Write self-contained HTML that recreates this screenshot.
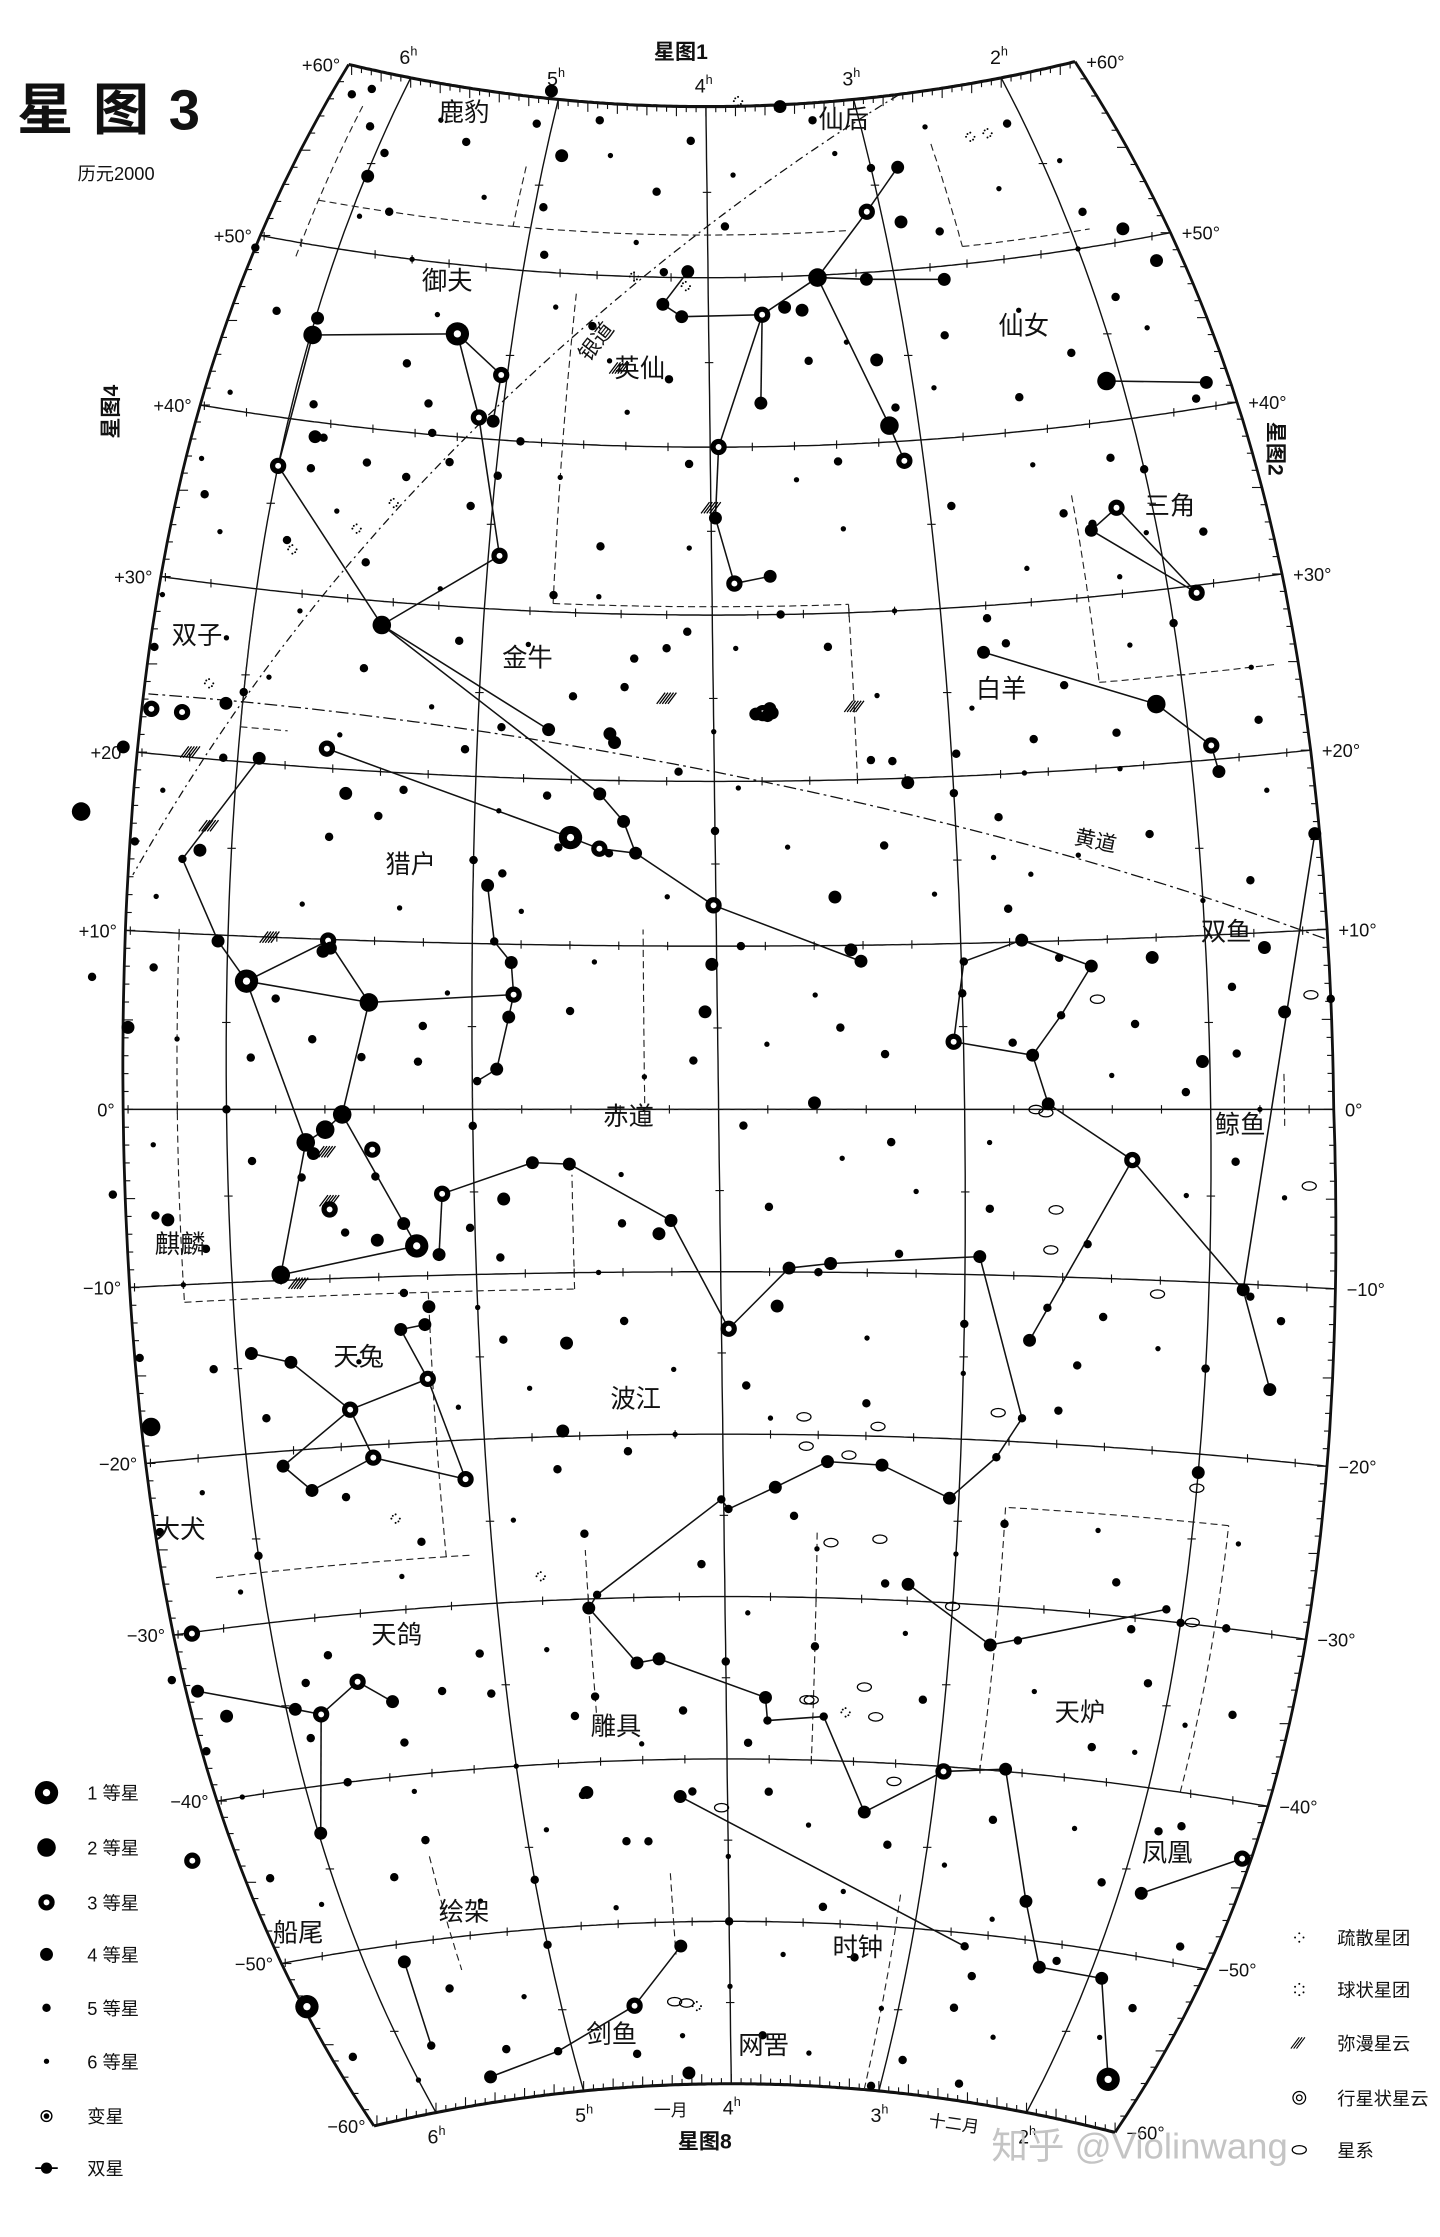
<!DOCTYPE html>
<html lang="zh">
<head>
<meta charset="utf-8">
<title>星图3</title>
<style>
html,body{margin:0;padding:0;background:#fff;}
svg{display:block;}
text{font-family:"Liberation Sans","Noto Sans CJK SC",sans-serif;fill:#111;}
</style>
</head>
<body>
<svg id="chart" xmlns="http://www.w3.org/2000/svg" width="1440" height="2237" viewBox="0 0 1024 1591">
<rect x="0" y="0" width="1024" height="1591" fill="#fff"/>
<g id="grid"></g>
<g id="bounds"></g>
<g id="paths"></g>
<g id="clines"></g>
<g id="starsG"></g>
<g id="dso"></g>
<g id="labels">
  <text x="12" y="92" font-size="40" font-weight="bold" letter-spacing="14" font-family="Noto Serif CJK SC, serif">星图3</text>
  <text x="55" y="128" font-size="13">历元2000</text>
  <text x="465" y="42" font-size="15" font-weight="bold">星图1</text>
  <text x="482" y="1528" font-size="15" font-weight="bold">星图8</text>
  <text transform="translate(84,312) rotate(-90)" font-size="15" font-weight="bold">星图4</text>
  <text transform="translate(902,300) rotate(90)" font-size="15" font-weight="bold">星图2</text>
  <text x="465" y="1505" font-size="12">一月</text>
  <text x="660" y="1512" font-size="12" transform="rotate(8,660,1512)">十二月</text>
  <text x="705" y="1535" font-size="26" style="fill:#c4c4c4">知乎 @Violinwang</text>
</g>
<g id="legend"></g>
</svg>
<script>
// ---------- data arrays ----------
const starIds = [];
const starRA = [];
const starDec = [];
const starMag = [];
const stars = [
['capella',5.28,46.0,0.1],['menk',5.99,44.95,1.9],['thAur',6.0,37.2,2.6],['iAur',4.95,33.17,2.7],['eAur',5.03,43.82,3.0],['hAur',5.11,41.23,3.2],['zAur',5.04,41.08,3.7],['dAur',5.99,54.28,3.7],['xiAur',5.95,55.7,4.9],['nuAur',5.86,39.15,4.0],['piAur',5.99,45.94,4.3],['rhoAur',5.36,41.8,5.2],['lamAur',5.32,40.1,4.7],['muAur',5.22,38.48,4.9],['sigAur',5.41,37.39,5.0],['omAur',4.99,37.89,4.9],['upsAur',5.85,37.3,4.7],['chiAur',5.54,32.19,4.8],['tauAur',5.82,39.15,4.5],['psi1Aur',6.42,49.29,4.9],
['bCam',5.06,60.44,4.0],['7Cam',4.95,53.75,4.5],['cam2',5.5,57.0,5.0],['cam3',4.3,55.0,5.3],['cam4',3.84,56.0,5.5],['cam5',4.9,56.8,4.3],['cam6',4.7,59.0,5.0],['cam7',6.2,59.0,4.5],['cam8',6.3,58.5,5.2],
['mirfak',3.41,49.86,1.8],['algol',3.14,40.96,2.1],['zPer',3.9,31.88,2.85],['ePer',3.96,40.01,2.9],['gPer',3.08,53.51,2.9],['dPer',3.72,47.79,3.0],['rPer',3.09,38.84,3.4],['hPer',2.84,55.9,3.8],['nuPer',3.75,42.58,3.8],['kPer',3.16,44.86,3.8],['oPer',3.74,32.29,3.8],['xiPer',3.98,35.79,4.0],['lPer',4.11,50.35,4.3],['muPer',4.24,48.41,4.1],['tPer',2.9,52.76,4.0],['iPer',3.15,49.6,4.05],['psiPer',3.6,48.19,4.3],['sPer',3.51,47.99,4.4],['phiPer',1.73,50.69,4.1],['thPer',2.74,49.23,4.1],['48Per',4.14,47.7,4.0],['bPer',4.24,50.3,4.6],['aB',3.5,59.9,4.2],['aC',3.3,59.0,4.6],
['gAnd',2.07,42.33,2.1],['51And',1.63,48.63,3.6],['58And',2.14,37.9,4.8],['60And',2.2,44.2,4.8],['tauAnd',1.68,40.58,4.9],['upsAnd',1.61,41.4,4.1],
['bTri',2.16,34.99,3.0],['aTri',1.88,29.58,3.4],['gTri',2.29,33.85,4.0],['dTri',2.28,34.22,4.9],['eTri',2.05,33.36,5.5],
['hamal',2.12,23.46,2.0],['sheratan',1.91,20.81,2.6],['mesarthim',1.89,19.29,3.9],['41Ari',2.83,27.26,3.6],['39Ari',2.8,29.25,4.5],['35Ari',2.73,27.7,4.6],['dAri',3.19,19.73,4.35],['eAri',2.98,21.34,4.6],['zAri',3.25,21.05,4.9],['tAri',3.34,21.15,5.3],['nuAri',2.65,21.96,5.4],['thAri',2.3,19.9,5.6],['piAri',2.82,17.46,5.2],['sigAri',2.85,15.08,5.5],['muAri',2.7,20.0,5.7],
['ald',4.6,16.51,0.9],['elnath',5.44,28.61,1.65],['zTau',5.63,21.14,3.0],['alcyone',3.79,24.1,2.9],['atlas',3.82,24.05,3.6],['electra',3.75,24.11,3.7],['maia',3.76,24.37,3.9],['merope',3.77,23.95,4.1],['lTau',4.01,12.49,3.4],['eTau',4.48,19.18,3.5],['th2Tau',4.48,15.87,3.4],['gTau',4.33,15.63,3.6],['dTau',4.38,17.54,3.8],['oTau',3.41,9.03,3.6],['xiTau',3.45,9.73,3.7],['nuTau',4.05,5.99,3.9],['tauTau',4.7,22.96,4.3],['iTau',5.05,21.59,4.6],['kTau',4.42,22.29,4.2],['upsTau',4.44,22.81,4.3],['10Tau',3.61,0.4,4.3],['5Tau',3.51,12.94,4.1],['muTau',4.02,8.89,4.3],['chiTau',4.38,25.63,5.4],['phiTau',4.34,27.35,5.0],['psiTau',4.11,29.0,5.2],['omTau',4.15,20.58,4.9],['sigTau',4.65,15.9,4.7],['71Tau',4.44,15.6,4.5],['111Tau',5.4,17.38,5.0],['119Tau',5.54,18.6,4.3],['m1',5.58,22.0,5.8],['14Tau',3.9,19.6,5.5],
['betel',5.92,7.41,0.5],['rigel',5.24,-8.2,0.1],['bellatrix',5.42,6.35,1.6],['mintaka',5.53,-0.3,2.2],['alnilam',5.6,-1.2,1.7],['alnitak',5.68,-1.94,1.8],['saiph',5.8,-9.67,2.1],['meissa',5.59,9.93,3.4],['pi3',4.83,6.96,3.2],['pi2',4.84,8.9,4.4],['pi4',4.85,5.6,3.7],['pi5',4.9,2.44,3.7],['pi1',4.91,10.15,4.6],['pi6',4.98,1.71,4.5],['o2Ori',4.94,13.51,4.1],['o1Ori',4.88,14.25,4.7],['iOri',5.59,-5.91,2.8],['etaOri',5.41,-2.4,3.4],['muOri',6.04,9.65,4.1],['xiOri',6.2,14.21,4.5],['nuOri',6.13,14.77,4.4],['chi1',5.91,20.28,4.4],['chi2',6.06,20.14,4.6],['phi1',5.58,9.49,4.4],['phi2',5.61,9.29,4.1],['omOri',5.65,4.12,4.6],['psiOri',5.45,3.1,4.6],['sigOri',5.65,-2.6,3.8],['tauOri',5.29,-6.84,3.6],['29Ori',5.4,-7.8,4.1],['rhoOri',5.22,2.86,4.5],['52Ori',5.8,6.45,5.3],['upsOri',5.53,-7.3,4.6],['kOri2',5.7,-4.0,5.0],
['cursa',5.13,-5.09,2.8],['zaurak',3.97,-13.51,2.95],['dEri',3.72,-9.76,3.5],['eEri',3.55,-9.46,3.7],['hEri',2.94,-8.9,3.9],['t1',2.75,-18.57,4.5],['t2',2.85,-21.0,4.75],['t3',3.04,-23.62,4.1],['t4',3.33,-21.76,3.7],['t5',3.56,-21.63,4.3],['t6',3.78,-23.25,4.2],['t8',3.98,-24.61,4.6],['t9',4.01,-24.02,4.6],['u1',4.56,-29.77,4.5],['u2',4.6,-30.56,3.8],['u3',4.4,-34.02,3.95],['u4',4.3,-33.8,3.55],['gEri',3.82,-36.2,4.2],['fEri',3.81,-37.62,4.7],['yEri',3.55,-37.3,4.5],['eEri2',3.33,-43.07,4.3],['acamar',2.97,-40.3,3.2],['iEri',2.68,-39.86,4.1],['kEri',2.45,-47.7,4.25],['phiEri',2.28,-51.51,3.55],['chiEri',1.93,-51.61,3.7],['achernar',1.63,-57.24,0.5],['nuEri',4.61,-3.35,3.9],['muEri',4.76,-3.25,4.0],['omEri',4.88,-5.45,4.4],['lamEri',5.15,-8.75,4.3],['psiEri',5.02,-7.17,4.8],['o1Eri',4.2,-6.84,4.0],['o2Eri',4.25,-7.65,4.4],['piEri',3.77,-12.1,4.4],['zetEri',3.27,-8.82,4.8],['53Eri',4.64,-14.3,3.9],['54Eri',4.67,-19.67,4.3],['hEri2',3.6,-33.0,5.2],
['menkar',3.04,4.09,2.5],['gCet',2.72,3.24,3.5],['dCet',2.66,0.33,4.1],['mira',2.32,-2.98,3.0],['zCet',1.86,-10.33,3.7],['tauCet',1.73,-15.94,3.5],['nuCet',2.6,5.59,4.9],['xi2',2.47,8.46,4.3],['muCet',2.75,10.11,4.3],['lCet',2.99,8.91,4.7],['piCet',2.73,-13.86,4.25],['rhoCet',2.43,-12.29,4.9],['sigCet',2.53,-15.24,4.75],['epsCet',2.66,-11.87,4.8],['xi1',2.22,8.85,4.4],['alpPsc',2.03,2.76,3.8],['omPsc',1.76,9.16,4.3],['xiPsc',1.89,3.19,4.6],['nuPsc',1.69,5.49,4.4],['muPsc',1.5,6.14,4.8],['etaPsc',1.52,15.35,3.6],['chiCet',1.83,-10.7,4.7],['upsCet',2.0,-21.08,4.0],['kCet',3.32,3.37,4.8],
['aFor',3.2,-28.99,3.9],['bFor',2.82,-32.4,4.45],['nuFor',2.07,-29.3,4.7],['muFor',2.21,-30.7,5.3],['phiFor',2.1,-33.8,5.1],['piFor',2.0,-30.0,5.4],
['arneb',5.55,-17.82,2.6],['nihal',5.47,-20.76,2.8],['eLep',5.09,-22.37,3.2],['muLep',5.22,-16.21,3.3],['zLep',5.78,-14.82,3.5],['gLep',5.74,-22.45,3.6],['hLep',5.94,-14.17,3.7],['dLep',5.85,-20.88,3.8],['lLep',5.32,-13.18,4.3],['kLep',5.22,-12.94,4.4],['iLep',5.2,-11.87,4.4],['thLep',6.1,-14.94,4.7],
['phact',5.66,-34.07,2.6],['wazn',5.85,-35.77,3.1],['dCol',6.37,-33.44,3.85],['eCol',5.52,-35.47,3.9],['hCol',5.99,-42.82,3.95],['gCol',5.96,-35.28,4.35],['kCol',6.27,-35.14,4.4],['lCol',5.89,-33.8,4.9],['omCol',5.29,-35.1,4.9],['muCol',5.77,-32.3,5.2],['xiCol',5.92,-37.1,4.97],
['mirzam',6.38,-17.96,2.0],['zCMa',6.34,-30.06,3.0],['lCMa',6.47,-32.58,4.5],['canopus',6.4,-52.7,-0.7],['nuPup',6.63,-43.2,3.2],
['aCae',4.68,-41.86,4.45],['bCae',4.7,-37.14,5.05],['gCae',5.07,-35.48,4.55],['dCae',4.51,-44.95,5.1],
['bPic',5.79,-51.07,3.85],['gPic',5.83,-56.17,4.5],['aDor',4.57,-55.05,3.3],['gDor',4.27,-51.49,4.25],['zDor',5.09,-57.47,4.7],['bDor',5.56,-58.5,3.8],
['aHor',4.23,-42.29,3.85],['dHor',4.17,-41.99,4.9],['zHor',2.68,-54.55,5.2],['muHor',3.06,-59.74,5.1],['iHor',2.71,-50.8,5.4],['etaHor',2.63,-52.54,5.3],['eRet',4.28,-59.3,4.4],
['psiPhe',1.89,-46.3,4.4],['gPhe',1.47,-43.3,3.4],['phiPhe',1.9,-42.5,5.1],['chiPhe',1.6,-49.0,5.2],
['muGem',6.38,22.51,2.9],['etaGem',6.25,22.51,3.3],['1Gem',6.07,23.26,4.2],['nuGem',6.48,20.21,4.1],['alhena',6.63,16.4,1.9],
['gMon',6.25,-6.27,4.0],['8Mon',6.4,4.59,4.4],['13Mon',6.55,7.33,4.5],['10Mon',6.47,-4.76,5.0]
];
// faint stars: [ra, dec]
const faint = [
[5.7,58],[5.3,54],[4.6,57],[4.4,52],[3.2,57],[2.6,58],[2.3,54],[1.9,55],[5.6,50],[4.8,48],[4.5,45],[4.4,42],[3.6,38],[3.4,35],[2.5,38],[2.4,47],[2.0,50],[1.8,45],[5.7,35],[6.2,33],[6.3,41],[5.2,31],[4.8,28],[4.5,31],[3.9,28],[3.2,30],[2.6,32],[2.2,27],[1.7,25],[6.1,27],[5.9,25],[5.2,24],[4.9,18],[4.2,13],[3.7,16],[3.1,13],[2.5,15],[2.0,12],[1.7,18],[6.3,12],[6.2,4],[5.3,12],[4.5,9],[4.3,2],[3.8,4],[3.5,-3],[2.9,-2],[2.1,-5],[1.8,0],[6.3,-2],[6.2,-10],[5.0,-12],[4.5,-10],[4.2,-16],[3.4,-14],[3.0,-16],[2.2,-14],[1.7,-5],[6.2,-22],[5.1,-18],[4.9,-25],[4.2,-20],[3.6,-27],[3.0,-27],[2.4,-25],[1.8,-25],[6.1,-28],[5.4,-28],[4.8,-33],[3.9,-31],[2.6,-35],[1.9,-36],[6.3,-40],[5.5,-41],[4.9,-44],[4.0,-46],[3.4,-48],[2.9,-46],[2.3,-43],[6.1,-47],[5.3,-48],[4.6,-49],[3.7,-52],[3.1,-55],[2.4,-56],[6.0,-58],[5.2,-54],[4.3,-57],[3.5,-58],[1.8,-55],
[5.95,52],[5.4,47],[4.7,38],[3.3,46],[2.9,43],[2.2,31],[4.1,34],[5.8,29],[6.35,37],[6.4,29],[4.0,23],[3.3,25],[2.9,24],[4.8,12],[5.1,7],[5.7,12],[6.3,18],[2.7,14],[3.6,7],[4.4,-4],[3.2,-5],[2.4,2],[5.5,-15],[4.8,-17],[3.8,-19],[3.2,-32],[2.1,-38],[4.4,-39],[5.0,-40],[3.6,-44],[2.6,-49],[4.0,-54]
];
// medium-faint field stars: [ra, dec]
const field = [
[6.1,57],[5.1,58.5],[4.1,58],[3.0,56],[2.1,57.5],[5.8,52.5],[4.9,51],[3.9,53],[2.7,52],[1.9,52],
[6.2,46],[5.5,44],[4.6,47],[4.2,44],[3.5,45],[2.8,46],[2.5,42],[1.9,47],[5.9,41],[4.9,40],[3.1,42],
[6.3,35],[5.9,33],[5.1,36],[4.5,34],[4.1,39],[3.4,39],[2.9,36],[2.4,35],[1.8,33],[5.6,38],[4.7,31],[3.7,30],[2.0,37],
[6.4,26],[5.5,26],[5.1,28],[4.6,25],[4.2,28],[3.5,28],[2.5,25],[2.0,28],[1.7,22],[6.0,24],[4.9,23],[3.0,19],[2.3,22],
[6.4,15],[5.6,16],[5.0,15],[4.7,19],[4.0,17],[3.3,16],[2.8,12],[2.2,16],[1.8,13],[5.3,19],[3.9,10],[2.6,9],
[6.3,8],[5.9,3],[5.2,5],[4.6,6],[4.1,3],[3.5,5],[3.0,7],[2.3,5],[1.9,7],[6.0,0],[5.0,-1],[3.9,-1],[2.8,4],[2.1,1],
[6.3,-6],[5.4,-4],[4.9,-9],[4.4,-7],[3.8,-6],[3.3,-2],[2.9,-6],[2.5,-8],[1.9,-3],[6.1,-8],[5.9,-3],[3.6,-10],
[6.4,-14],[5.9,-18],[5.3,-11],[4.9,-14],[4.4,-13],[3.9,-17],[3.4,-18],[3.0,-13],[2.6,-18],[2.0,-15],[1.7,-12],[4.7,-22],
[6.4,-24],[6.0,-26],[5.3,-26],[4.6,-26],[4.1,-28],[3.7,-25],[3.3,-29],[2.8,-25],[2.3,-28],[1.8,-30],[5.6,-23],[4.4,-21],
[6.4,-37],[5.5,-38],[5.1,-33],[4.6,-36],[4.0,-34],[3.9,-39],[3.1,-36],[2.7,-32],[2.3,-38],[1.7,-35],[5.8,-40],[4.2,-37],
[6.3,-45],[5.7,-46],[5.0,-47],[4.4,-45],[3.8,-42],[3.2,-45],[2.7,-43],[2.1,-46],[1.8,-42],[5.5,-44],[4.7,-42],[3.5,-49],
[6.3,-56],[5.6,-53],[5.0,-51],[4.6,-58],[4.0,-50],[3.3,-52],[2.9,-58],[2.2,-51],[1.7,-53],[5.4,-57],[3.8,-57],[2.5,-59]
];
// constellation boundary segments: [ra1, dec1, ra2, dec2]
const boundaries = [
[6.2,58,6.2,49],[6.2,52.5,5.1,52.5],[5.1,56,5.1,52.5],[5.1,52.5,3.2,52.5],[4.7,30.5,4.7,49],[4.7,30.5,3.4,30.5],[3.4,30.5,3.4,20],[2.6,57,2.6,51],[2.6,51,1.9,51],[2.35,36,2.35,25],[2.35,25,1.6,25],
[3.45,0,5.0,0],[5.0,0,5.0,15.5],[6.2,10,6.2,-11],[6.2,-11,4.6,-11],[4.6,-11,4.6,-4],[3.6,-26,3.6,-40],[3.6,-40,2.5,-40],[4.6,-37,4.6,-27],[5.1,-27,6.2,-27],[3.1,-48,3.1,-60],[4.3,-47,4.3,-52],[5.5,-45,5.5,-52],[1.85,-40,1.85,-24],[1.85,-24,2.8,-24],[2.8,-24,2.8,-40],
[6.0,30,6.0,22],[6.0,22,5.8,22],[5.2,-11,5.2,-27],[2.0,10,3.4,10],[1.7,2,1.7,-1],[4.3,-1,4.3,11]
];
const conLines = [
['menk','capella'],['capella','hAur'],['capella','eAur'],['hAur','iAur'],['menk','thAur'],['thAur','elnath'],['iAur','elnath'],['eAur','zAur'],
['betel','bellatrix'],['bellatrix','mintaka'],['mintaka','alnilam'],['alnilam','alnitak'],['alnitak','saiph'],['mintaka','rigel'],['betel','alnitak'],['meissa','betel'],['meissa','bellatrix'],['bellatrix','pi3'],['o2Ori','pi1'],['pi1','pi2'],['pi2','pi3'],['pi3','pi4'],['pi4','pi5'],['pi5','pi6'],['saiph','rigel'],['betel','muOri'],['muOri','xiOri'],['xiOri','chi1'],
['ald','zTau'],['elnath','tauTau'],['lTau','gTau'],['gTau','dTau'],['dTau','eTau'],['eTau','elnath'],['gTau','th2Tau'],['th2Tau','ald'],['lTau','oTau'],
['mirfak','gPer'],['gPer','hPer'],['mirfak','dPer'],['dPer','ePer'],['ePer','xiPer'],['xiPer','zPer'],['zPer','oPer'],['mirfak','algol'],['algol','rPer'],['mirfak','iPer'],['iPer','thPer'],['dPer','nuPer'],['dPer','48Per'],['48Per','muPer'],['muPer','lPer'],
['gAnd','upsAnd'],['aTri','bTri'],['bTri','gTri'],['gTri','aTri'],
['hamal','sheratan'],['sheratan','mesarthim'],['hamal','41Ari'],
['menkar','lCet'],['lCet','muCet'],['muCet','xi2'],['xi2','nuCet'],['nuCet','gCet'],['gCet','menkar'],['gCet','dCet'],['dCet','mira'],['mira','zCet'],['zCet','tauCet'],['mira','piCet'],['zCet','etaPsc'],
['cursa','lamEri'],['cursa','muEri'],['muEri','nuEri'],['nuEri','o1Eri'],['o1Eri','zaurak'],['zaurak','dEri'],['dEri','eEri'],['eEri','hEri'],['hEri','t1'],['t1','t2'],['t2','t3'],['t3','t4'],['t4','t5'],['t5','t6'],['t6','t8'],['t8','t9'],['t9','u1'],['u1','u2'],['u2','u3'],['u3','u4'],['u4','gEri'],['gEri','fEri'],['fEri','yEri'],['yEri','eEri2'],['eEri2','acamar'],['acamar','iEri'],['iEri','kEri'],['kEri','phiEri'],['phiEri','chiEri'],['chiEri','achernar'],
['aFor','bFor'],['bFor','nuFor'],
['arneb','nihal'],['nihal','eLep'],['eLep','muLep'],['muLep','arneb'],['arneb','zLep'],['zLep','hLep'],['arneb','dLep'],['dLep','gLep'],['gLep','nihal'],['muLep','lLep'],['lLep','kLep'],
['eCol','phact'],['phact','wazn'],['wazn','gCol'],['gCol','dCol'],['wazn','hCol'],
['gDor','aDor'],['aDor','zDor'],['zDor','bDor'],['aHor','iHor'],['gPhe','psiPhe'],['bPic','gPic']
];
const decLines = [60,50,40,30,20,10,0,-10,-20,-30,-40,-50,-60];
const raLines = [6,5,4,3,2];
const raTopLabels = ['6','5','4','3','2'];
const clusters = [[5.45,35.8],[5.6,34.1],[5.87,32.5],[3.78,60.3],[2.35,57.1],[2.24,57.15],[4.12,49.5],[4.4,50.0],[6.15,24.3],[4.8,-28.5],[5.4,-24.5],[3.45,-37.0],[4.2,-55.2]];
const galaxies = [[2.71,-0.01],[2.67,-0.2],[2.65,-8.4],[2.63,-6.0],[3.31,-37.2],[3.37,-35.4],[3.35,-19.4],[3.33,-26.3],[3.54,-26.6],[3.65,-20.7],[3.66,-18.9],[3.47,-21.2],[3.2,-41.1],[4.03,-43.0],[4.33,-54.9],[4.26,-55.0],[3.61,-36.3],[3.63,-36.3],[2.85,-18.3],[1.95,-29.9],[1.6,-4.3],[1.58,6.4],[2.45,6.5],[2.0,-22.0],[2.21,-10.8],[3.0,-30.2]];
const nebulae = [[5.59,-5.4],[5.83,10.0],[5.6,-2.5],[6.2,20.3],[3.4,24.4],[4.0,36.4],[4.2,25.0],[4.45,44.6],[6.1,16.2],[5.73,-10.2]];
const legendMags = [0.5,2,3,4,5,6];
const legendNames = ['1 等星','2 等星','3 等星','4 等星','5 等星','6 等星'];

// ---------- projection ----------
function S(d){const x=d/60;return 175*(1-0.261*x*x-0.139*x*x*x*x);}
function X0(d){return 511-0.15*d;}
function ymid(d){return d>=0?789-11.55*d-0.0056*d*d:789-11.55*d;}
function C(d){return 32*Math.sin(Math.min(90,Math.abs(d)*2.2)*Math.PI/180);}
function X(ra,d){return X0(d)+(4-ra)*S(d);}
function Y(ra,d){const h=(4-ra)/2.5;return ymid(d)-Math.sign(d)*C(d)*h*h;}
const LEFT=6.42;
function RIGHT(d){return d<0?1.5+0.1*(d/60):1.5;}

const NS='http://www.w3.org/2000/svg';
function mk(tag,attrs,parent){const e=document.createElementNS(NS,tag);for(const k in attrs)e.setAttribute(k,attrs[k]);parent.appendChild(e);return e;}
function poly(pts){return pts.map((p,i)=>(i?'L':'M')+p[0].toFixed(1)+','+p[1].toFixed(1)).join('');}
function sup(parent,main){const s=document.createElementNS(NS,'tspan');s.setAttribute('font-size','9');s.setAttribute('dy','-6');s.textContent='h';parent.textContent=main;parent.appendChild(s);}

const grid=document.getElementById('grid');
decLines.forEach(d=>{
  const pts=[];const r1=RIGHT(d);
  for(let ra=LEFT;ra>=r1-0.0001;ra-=0.02)pts.push([X(ra,d),Y(ra,d)]);
  pts.push([X(r1,d),Y(r1,d)]);
  const edge=(d===60||d===-60);
  const p=mk('path',{d:poly(pts),fill:'none',stroke:'#111','stroke-width':edge?2.2:1},grid);
  
  
  for(let m=Math.ceil(r1*15);m<=LEFT*15;m++){
    const ra=m/15;const x=X(ra,d),y=Y(ra,d);
    let len=0;
    if(edge)len=(m%3===0?7:4);else if(m%3===0&&m%15!==0)len=3;
    if(!len)continue;
    const dir=d>0?1:-1;
    if(edge)mk('line',{x1:x,y1:y,x2:x,y2:y+dir*len,stroke:'#111','stroke-width':0.8},grid);
    else mk('line',{x1:x,y1:y-len,x2:x,y2:y+len,stroke:'#111','stroke-width':0.8},grid);
  }
  const lx=X(LEFT,d),ly=Y(LEFT,d);const rx=X(r1,d),ry=Y(r1,d);
  const lab=(d>0?'+':(d<0?'\u2212':''))+Math.abs(d)+'°';
  const t1=mk('text',{x:lx-6,y:ly+5,'font-size':13,'text-anchor':'end'},grid);t1.textContent=lab;
  
  
  const t2=mk('text',{x:rx+8,y:ry+5,'font-size':13},grid);t2.textContent=lab;
  
  
});
raLines.forEach((ra,i)=>{
  const pts=[];for(let d=-60;d<=60;d+=1)pts.push([X(ra,d),Y(ra,d)]);
  const p=mk('path',{d:poly(pts),fill:'none',stroke:'#111','stroke-width':1},grid);
  
  
  for(let d=-55;d<=55;d+=5){if(d%10===0)continue;const x=X(ra,d),y=Y(ra,d);mk('line',{x1:x-3,y1:y,x2:x+3,y2:y,stroke:'#111','stroke-width':0.8},grid);}
  const tt=mk('text',{x:X(ra,60)-8,y:Y(ra,60)-10,'font-size':14},grid);
  sup(tt,raTopLabels[i]);
  
  
  const tb=mk('text',{x:X(ra,-60)-6,y:Y(ra,-60)+22,'font-size':14},grid);
  sup(tb,raTopLabels[i]);
  
  
});
['L','R'].forEach(side=>{
  const pts=[];for(let d=-60;d<=60;d+=1){const ra=side==='R'?RIGHT(d):LEFT;pts.push([X(ra,d),Y(ra,d)]);}
  const p=mk('path',{d:poly(pts),fill:'none',stroke:'#111','stroke-width':2},grid);
  
  
  for(let d=-59;d<=59;d+=1){const ra=side==='R'?RIGHT(d):LEFT;const x=X(ra,d),y=Y(ra,d);const len=(d%5===0)?7:4;
    mk('line',{x1:x,y1:y,x2:side==='R'?x-len:x+len,y2:y,stroke:'#111','stroke-width':0.8},grid);}
});

// ---------- boundaries ----------
const bg=document.getElementById('bounds');
boundaries.forEach(b=>{
  const pts=[];const n=30;
  for(let k=0;k<=n;k++){const ra=b[0]+(b[2]-b[0])*k/n,d=b[1]+(b[3]-b[1])*k/n;pts.push([X(ra,d),Y(ra,d)]);}
  const p=mk('path',{d:poly(pts),fill:'none',stroke:'#222','stroke-width':0.8,'stroke-dasharray':'5 3'},bg);
  
  
});

// ---------- ecliptic & galactic equator ----------
const paths=document.getElementById('paths');
function inside(ra,d){return d<=60&&d>=-60&&ra<=LEFT&&ra>=RIGHT(d);}
(function(){
  const eps=23.44*Math.PI/180;const pts=[];
  for(let l=10;l<=110;l+=0.5){const L=l*Math.PI/180;let ra=Math.atan2(Math.sin(L)*Math.cos(eps),Math.cos(L))*12/Math.PI;if(ra<0)ra+=24;const d=Math.asin(Math.sin(eps)*Math.sin(L))*180/Math.PI;if(inside(ra,d))pts.push([X(ra,d),Y(ra,d)]);}
  const p=mk('path',{d:poly(pts),fill:'none',stroke:'#111','stroke-width':0.9,'stroke-dasharray':'9 3 2 3'},paths);
  
  
  const g=[];const rp=192.86,dp=27.13*Math.PI/180;
  for(let r=20;r<=100;r+=0.5){const d=Math.atan(-Math.cos((r-rp)*Math.PI/180)/Math.tan(dp))*180/Math.PI;const ra=r/15;if(inside(ra,d))g.push([X(ra,d),Y(ra,d)]);}
  const q=mk('path',{d:poly(g),fill:'none',stroke:'#111','stroke-width':0.9,'stroke-dasharray':'6 3 1.5 3'},paths);
  
  
})();

// ---------- stars ----------
const sg=document.getElementById('starsG');
const byId={};
stars.forEach(s=>{starIds.push(s[0]);starRA.push(s[1]);starDec.push(s[2]);starMag.push(s[3]);byId[s[0]]=s;});
function drawStar(parent,x,y,m){
  let e;
  if(m<1.5){e=mk('g',{},parent);mk('circle',{cx:x,cy:y,r:8.3,fill:'#000'},e);mk('circle',{cx:x,cy:y,r:2.6,fill:'#fff'},e);}
  else if(m<2.5){e=mk('circle',{cx:x,cy:y,r:6.6,fill:'#000'},parent);}
  else if(m<3.5){e=mk('g',{},parent);mk('circle',{cx:x,cy:y,r:5.8,fill:'#000'},e);mk('circle',{cx:x,cy:y,r:2.1,fill:'#fff'},e);}
  else if(m<4.5){e=mk('circle',{cx:x,cy:y,r:4.6,fill:'#000'},parent);}
  else if(m<5.5){e=mk('circle',{cx:x,cy:y,r:3,fill:'#000'},parent);}
  else {e=mk('circle',{cx:x,cy:y,r:1.9,fill:'#000'},parent);}
  return e;
}
const cl=document.getElementById('clines');
conLines.forEach(pr=>{const a=byId[pr[0]],b=byId[pr[1]];if(!a||!b)return;
  const l=mk('line',{x1:X(a[1],a[2]),y1:Y(a[1],a[2]),x2:X(b[1],b[2]),y2:Y(b[1],b[2]),stroke:'#111','stroke-width':1.1},cl);
  
  
});
for(let i=0;i<starIds.length;i++){
  const e=drawStar(sg,X(starRA[i],starDec[i]),Y(starRA[i],starDec[i]),starMag[i]);
  
  
}
faint.forEach(f=>{
  const e=drawStar(sg,X(f[0],f[1]),Y(f[0],f[1]),5.8);
  
  
});
field.forEach(f=>{
  const e=drawStar(sg,X(f[0],f[1]),Y(f[0],f[1]),5.0);
  
  
});
const dso=document.getElementById('dso');
clusters.forEach(c=>{const x=X(c[0],c[1]),y=Y(c[0],c[1]);const g=mk('g',{},dso);
  
  
  [[-3,0],[3,0],[0,-3],[0,3],[-2,-2],[2,2]].forEach(o=>mk('circle',{cx:x+o[0],cy:y+o[1],r:0.7,fill:'#000'},g));});
galaxies.forEach(c=>{const e=mk('ellipse',{cx:X(c[0],c[1]),cy:Y(c[0],c[1]),rx:5,ry:3,fill:'none',stroke:'#000','stroke-width':0.9},dso);
  
  });
nebulae.forEach(c=>{const x=X(c[0],c[1]),y=Y(c[0],c[1]);const g=mk('g',{},dso);
  
  
  for(let k=-2;k<=2;k++)mk('line',{x1:x-3+k*2,y1:y+4,x2:x+3+k*2,y2:y-4,stroke:'#000','stroke-width':0.9},g);});

// ---------- constellation names ----------
const names=[['鹿豹',330,86],['仙后',600,91],['御夫',318,206],['英仙',455,268],['仙女',728,238],['三角',832,366],['双子',140,458],['金牛',375,474],['白羊',712,496],['猎户',292,621],['双鱼',872,669],['赤道',447,800],['鲸鱼',882,806],['麒麟',128,891],['天兔',255,971],['波江',452,1001],['大犬',128,1094],['天鸽',282,1169],['天炉',768,1224],['雕具',438,1234],['凤凰',830,1324],['船尾',212,1381],['绘架',330,1366],['时钟',610,1391],['剑鱼',435,1453],['网罟',543,1461]];
const lg=document.getElementById('labels');
names.forEach(n=>{const t=mk('text',{x:n[1],y:n[2],'font-size':18,'text-anchor':'middle'},lg);t.textContent=n[0];
  
  });
(function(){
  const t=mk('text',{x:778,y:603,'font-size':15,'text-anchor':'middle',transform:'rotate(12,778,603)'},lg);t.textContent='黄道';
  
  
  const g=mk('text',{x:428,y:246,'font-size':15,'text-anchor':'middle',transform:'rotate(-52,428,246)'},lg);g.textContent='银道';
  
  
})();

// ---------- legend ----------
const leg=document.getElementById('legend');
const legY=[1275,1314,1353,1390,1428,1466];
legendMags.forEach((m,i)=>{const e=drawStar(leg,33,legY[i],m);
  
  
  const t=mk('text',{x:62,y:legY[i]+5,'font-size':13},leg);t.textContent=legendNames[i];
  
  });
(function(){
  const v=mk('g',{},leg);mk('circle',{cx:33,cy:1505,r:3.8,fill:'none',stroke:'#000','stroke-width':1},v);mk('circle',{cx:33,cy:1505,r:2,fill:'#000'},v);
  
  
  const t=mk('text',{x:62,y:1510,'font-size':13},leg);t.textContent='变星';
  
  
  const d=mk('g',{},leg);mk('circle',{cx:33,cy:1542,r:4,fill:'#000'},d);mk('line',{x1:25,y1:1542,x2:41,y2:1542,stroke:'#000','stroke-width':1.2},d);
  
  
  const t2=mk('text',{x:62,y:1547,'font-size':13},leg);t2.textContent='双星';
  
  
  const rn=['疏散星团','球状星团','弥漫星云','行星状星云','星系'];const ry=[1378,1415,1453,1492,1529];
  rn.forEach((n,i)=>{const y=ry[i];const g=mk('g',{},leg);
    
    
    if(i===0){[[-3,0],[3,0],[0,-3],[0,3]].forEach(o=>mk('circle',{cx:924+o[0],cy:y+o[1],r:0.7,fill:'#000'},g));}
    else if(i===1){[[-3,-2],[3,-2],[-3,2],[3,2],[0,-4],[0,4]].forEach(o=>mk('circle',{cx:924+o[0],cy:y+o[1],r:0.7,fill:'#000'},g));}
    else if(i===2){for(let k=-1;k<=1;k++)mk('line',{x1:920+k*2,y1:y+4,x2:926+k*2,y2:y-4,stroke:'#000','stroke-width':0.8},g);}
    else if(i===3){mk('circle',{cx:924,cy:y,r:4.5,fill:'none',stroke:'#000','stroke-width':0.9},g);mk('circle',{cx:924,cy:y,r:2,fill:'none',stroke:'#000','stroke-width':0.9},g);}
    else {mk('ellipse',{cx:924,cy:y,rx:5,ry:3,fill:'none',stroke:'#000','stroke-width':0.9},g);}
    const t=mk('text',{x:951,y:y+5,'font-size':13},leg);t.textContent=n;
    
    });
})();
</script>
</body>
</html>
